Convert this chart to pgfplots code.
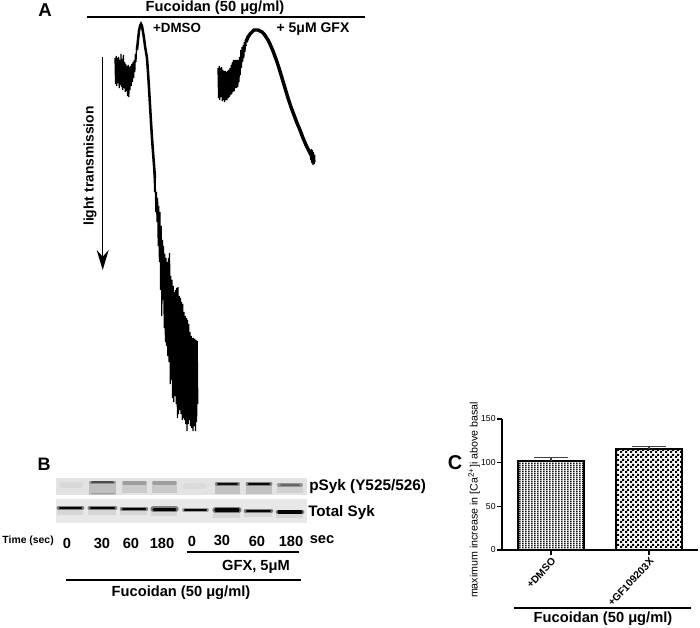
\documentclass[border=0pt]{standalone}
\usepackage{fontspec}
\setmainfont{Liberation Sans}
\usepackage{pgfplots}
\pgfplotsset{compat=1.18}
\usetikzlibrary{arrows.meta,patterns}

% bar fills of panel C, periods are whole pixels of the page
\pgfdeclarepatternformonly{checks}{\pgfqpoint{0pt}{0pt}}{\pgfqpoint{3.75pt}{3.75pt}}{\pgfqpoint{3.75pt}{3.75pt}}{
  \pgfpathrectangle{\pgfqpoint{0pt}{0pt}}{\pgfqpoint{1.875pt}{1.875pt}}
  \pgfpathrectangle{\pgfqpoint{1.875pt}{1.875pt}}{\pgfqpoint{1.875pt}{1.875pt}}
  \pgfusepath{fill}}
\pgfdeclarepatternformonly{finechecks}{\pgfqpoint{0pt}{0pt}}{\pgfqpoint{2.25pt}{1.5pt}}{\pgfqpoint{2.25pt}{1.5pt}}{
  \pgfpathrectangle{\pgfqpoint{0pt}{0pt}}{\pgfqpoint{1.5pt}{1.5pt}}
  \pgfusepath{fill}}

% x1 x2 y(px), width(pt), grey level
\newcommand{\band}[5]{\addplot[color=black!#5, line width=#4pt] coordinates {(#1,#3)(#2,#3)};}
% same with soft ends
\newcommand{\sband}[5]{\addplot[color=black!#5, line width=#4pt, line cap=round] coordinates {(#1,#3)(#2,#3)};}
\newcommand{\lbl}[3][]{\node[font=\bfseries\fontsize{11}{12}\selectfont,#1] at (#2) {#3};}
\newcommand{\rl}[2]{\addplot[black, line width=1.1pt] coordinates {#1 #2};}

\begin{document}
\begin{tikzpicture}
\useasboundingbox (0,0) rectangle (525pt,471pt);
% page in pixel coordinates: panels A and B
\begin{axis}[
  at={(0,0)}, anchor=south west,
  scale only axis, width=525pt, height=471pt,
  xmin=0, xmax=700, ymin=0, ymax=628, y dir=reverse,
  hide axis, clip=false,
]
% --- A, +DMSO trace
\addplot[black, line width=.95pt, line join=bevel] coordinates {
 (115,58)(115.6,84)(116.2,56)(116.8,86)(117.4,58)(118,83)(118.6,57)(119.2,88)(119.8,60)(120.4,85)
 (121,54)(121.6,87)(122.2,59)(122.8,90)(123.4,55)(124,88)(124.6,62)(125.2,92)(125.8,64)(126.4,91)
 (127,66)(127.6,96)(128.2,65)(128.8,97)(129.4,67)(130,90)(130.6,66)(131.2,86)(131.8,64)(132.4,82)
 (133,62)(133.6,78)(134.2,60)(134.8,72)(135.4,54)(136,62)(136.6,46)(137.2,50)};
\addplot[black, line width=1.9pt] coordinates {
 (137,50)(138,40)(139,31)(140,26)(141,24)(142,26)(143,32)(144,38)(145,46)(146,52)(147,58)(148,72)
 (149,88)(150,105)(151,122)(152,138)(153,152)(154,165)(155,178)};
\addplot[black, line width=.9pt, line join=bevel] coordinates {
 (154,170)(154.6,192)(155.2,178)(155.8,212)(156.4,192)(157,222)(157.6,198)(158.2,246)(158.8,206)(159.4,262)
 (160,212)(160.6,290)(161.2,226)(161.8,316)(162.4,240)(163,300)(163.6,246)(164.2,328)(164.8,254)(165.4,342)
 (166,258)(166.6,346)(167.2,262)(167.8,356)(168.4,258)(169,362)(169.6,253)(170.2,384)(170.8,276)(171.4,380)
 (172,280)(172.6,398)(173.2,286)(173.8,402)(174.4,292)(175,396)(175.6,290)(176.2,404)(176.8,288)(177.4,418)
 (178,287)(178.6,414)(179.2,296)(179.8,410)(180.4,298)(181,414)(181.6,302)(182.2,420)(182.8,304)(183.4,418)
 (184,312)(184.6,420)(185.2,316)(185.8,424)(186.4,318)(187,431)(187.6,320)(188.2,424)(188.8,324)(189.4,420)
 (190,332)(190.6,426)(191.2,336)(191.8,428)(192.4,338)(193,431)(193.6,338)(194.2,426)(194.8,339)(195.4,431)
 (196,340)(196.6,422)(197.2,341)(197.8,404)};
% --- A, +GFX trace
\addplot[black, line width=.95pt, line join=bevel] coordinates {
 (218,68)(218.6,98)(219.2,66)(219.8,100)(220.4,68)(221,97)(221.6,67)(222.2,101)(222.8,70)(223.4,100)
 (224,71)(224.6,102)(225.2,71)(225.8,100)(226.4,72)(227,100)(227.6,71)(228.2,98)(228.8,70)(229.4,97)
 (230,68)(230.6,95)(231.2,65)(231.8,94)(232.4,62)(233,92)(233.6,60)(234.2,91)(234.8,60)(235.4,88)
 (236,60)(236.6,88)(237.2,60)(237.8,87)(238.4,60)(239,82)(239.6,57)(240.2,75)(240.8,50)(241.4,68)
 (242,47)(242.6,62)(243.2,45)(243.8,58)(244.4,42)(245,52)(245.6,39)(246.2,46)};
\addplot[black, line width=2.6pt] coordinates {
 (246,42)(248,37)(250,34)(252,32)(254,30)(256,30)(258,30)(260,31)(262,32)(264,34)(266,37)(268,40)
 (270,44)(273,51)(276,59)(279,68)(282,78)(285,88)(288,98)(291,107)(294,115)(297,123)(300,130)
 (303,138)(306,145)(309,151)(311,155)};
\addplot[black, line width=.8pt] coordinates {
 (310,150)(310.6,160)(311.2,149)(311.8,163)(312.4,150)(313,165)(313.6,152)(314.2,164)(314.8,155)(315,162)};
% --- A, arrow and header rule
\addplot[black, line width=1pt, -{Stealth[length=15pt,width=9pt,inset=5pt]}] coordinates {(102.7,57)(102.7,270)};
\rl{(87,17)}{(365,17)}
\node[font=\bfseries\fontsize{14}{14}\selectfont] at (45,10) {A};
\lbl{215,8}{Fucoidan (50 μg/ml)}
\node[font=\bfseries\fontsize{10}{12}\selectfont] at (177,28) {+DMSO};
\node[font=\bfseries\fontsize{10.5}{12}\selectfont] at (313,29) {+ 5μM GFX};
\node[font=\bfseries\fontsize{10.4}{12}\selectfont, rotate=90] at (90,166) {light transmission};

% --- B, blot panels
\band{56}{307}{486.5}{12.8}{11}
\band{56}{307}{511}{18}{9}
% pSyk lanes: smear, then band
\sband{62}{80}{485}{5}{15}
\band{89}{116}{488}{10}{25}  \sband{91}{114}{482.5}{2.8}{45} \sband{92}{113}{482}{1.4}{70}  \sband{92}{114}{493.5}{1.2}{38}
\band{122}{147}{487}{9}{20}  \sband{124}{145}{483}{2.5}{38}
\band{152}{177}{487}{9}{21}  \sband{154}{175}{483}{2.5}{38}
\sband{186}{203}{486}{5}{14}
\band{215}{240}{488}{9}{24}  \sband{217}{238}{484}{3}{50}  \sband{218}{237}{484}{1.5}{95}
\band{246}{272}{488}{9}{24}  \sband{248}{270}{484}{3.6}{50} \sband{249}{269}{484}{2.1}{97}
\band{277}{303}{488}{8}{18}  \sband{279}{301}{485}{2.8}{42} \sband{281}{299}{485}{1.2}{60}
% Total Syk lanes
\band{57}{83}{511}{6}{16}    \sband{59}{82}{508}{3.6}{50}   \sband{60}{81}{508}{2.1}{98}
\band{88}{116}{511}{6}{16}   \sband{90}{115}{508}{3.6}{50}  \sband{91}{114}{508}{2.1}{98}
\band{120}{147}{511}{6}{16}  \sband{122}{146}{509}{3.3}{50} \sband{123}{145}{509}{1.9}{98}
\band{151}{177}{512}{6}{16}  \sband{153}{176}{509}{4}{50}   \sband{154}{175}{509.5}{2.5}{98}
\sband{184}{207}{510}{3}{40}  \sband{185}{206}{510}{1.7}{98}
\band{213}{240}{513}{7}{16}  \sband{215}{239}{510}{4}{50}   \sband{216}{238}{510}{2.5}{98}
\band{244}{272}{513}{6}{16}  \sband{246}{271}{511}{3.6}{50} \sband{247}{270}{511}{2.1}{98}
\band{276}{303}{514}{6}{16}  \sband{278}{302}{512}{3.6}{50} \sband{279}{301}{512}{2.3}{98}
% --- B, rules and labels
\rl{(187,552)}{(299,552)}
\rl{(66,580)}{(301,580)}
\node[font=\bfseries\fontsize{13.5}{14}\selectfont] at (44,464) {B};
\node[font=\bfseries\fontsize{11.5}{12}\selectfont, anchor=west, inner sep=0pt] at (309,487) {pSyk (Y525/526)};
\node[font=\bfseries\fontsize{11.4}{12}\selectfont, anchor=west, inner sep=0pt] at (308,513) {Total Syk};
\node[font=\bfseries\fontsize{7.8}{9}\selectfont, anchor=east, inner sep=0pt] at (54,541) {Time (sec)};
\lbl{67,543}{0}
\lbl{102,543}{30}
\lbl{131,543}{60}
\lbl{162,543}{180}
\lbl{192,541}{0}
\lbl{222,540}{30}
\lbl{257,541}{60}
\lbl{291,541}{180}
\lbl{322,540}{sec}
\lbl{256,567}{GFX, 5μM}
\lbl{181,593}{Fucoidan (50 μg/ml)}

% --- C, labels outside the bar axes
\node[font=\bfseries\fontsize{15}{15}\selectfont] at (455,463) {C};
\node[font=\fontsize{8}{10}\selectfont, rotate=90] at (474,500) {maximum increase in [Ca\textsuperscript{2+}]i above basal};
\rl{(514,608)}{(691,608)}
\lbl{603,619}{Fucoidan (50 μg/ml)}
\end{axis}

% --- C, bars
\begin{axis}[
  at={(376.5pt,58.5pt)}, anchor=south west,
  scale only axis, width=147pt, height=98.25pt,
  xmin=-0.5, xmax=1.5, ymin=0, ymax=150,
  axis x line=bottom, axis y line=left,
  axis line style={line width=1.2pt, -},
  xtick={0,1}, xticklabels={+DMSO,+GF109203X},
  ytick={0,50,100,150},
  tick align=outside, major tick length=3.6pt,
  tick style={black, line width=.9pt},
  x tick label style={rotate=47, anchor=north east, inner sep=1pt, font=\bfseries\fontsize{7.7}{9}\selectfont},
  y tick label style={inner sep=1pt, font=\fontsize{6.5}{8}\selectfont},
  /pgf/number format/assume math mode=true,
  ybar, bar width=49.5pt, bar shift=0pt,
  error bars/y dir=plus, error bars/y explicit,
  error bars/error bar style={black!75, line width=1pt},
  error bars/error mark options={black!75, line width=1pt, rotate=90, mark size=12.5pt},
]
\addplot[draw=black, line width=1.3pt, pattern=finechecks, pattern color=black!90]
  coordinates {(0,102) +- (0,4)};
\addplot[draw=black, line width=1.3pt, pattern=checks, pattern color=black]
  coordinates {(1,116) +- (0,2.5)};
\end{axis}
\end{tikzpicture}
\end{document}
